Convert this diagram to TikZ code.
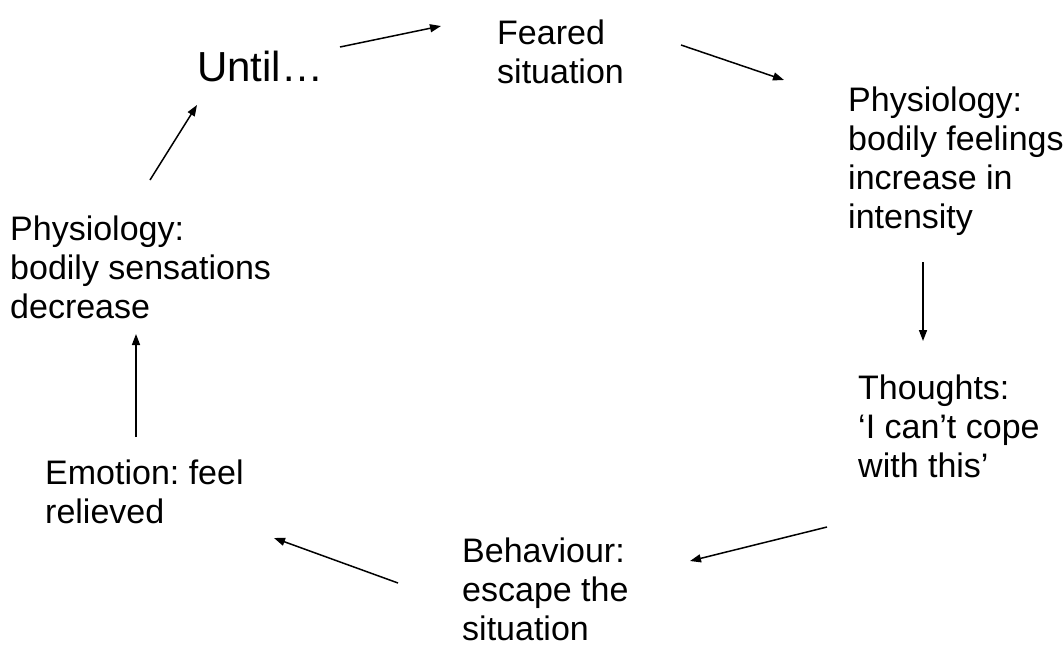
\documentclass[tikz,border=0pt]{standalone}
\usepackage{fontspec}
\setmainfont{Liberation Sans}
\usetikzlibrary{arrows.meta}
\frenchspacing

\begin{document}
\begin{tikzpicture}[x=1pt, y=-1pt,
  stage/.style={anchor=north west, inner sep=0pt, align=left, font=\fontsize{34}{39}\selectfont},
  cyclearrow/.style={-{Triangle[length=11pt, width=8pt]}, line width=1.5pt}]
  \useasboundingbox (0,0) rectangle (1064,646);
  \node [stage] (feared) at (497,20) {Feared\\situation};
  \node [stage, font=\fontsize{42}{48}\selectfont] (until) at (197,51) {Until…};
  \node [stage] (physup) at (848,87) {Physiology:\\bodily feelings\\increase in\\intensity};
  \node [stage] (thoughts) at (858,375) {Thoughts:\\‘I can’t cope\\with this’};
  \node [stage] (behaviour) at (462,538) {Behaviour:\\escape the\\situation};
  \node [stage] (emotion) at (45,460) {Emotion: feel\\relieved};
  \node [stage] (physdown) at (10,216) {Physiology:\\bodily sensations\\decrease};
  \coordinate (u1) at (340,47);  \coordinate (u2) at (441,26);
  \coordinate (f1) at (681,45);  \coordinate (f2) at (784,80);
  \coordinate (p1) at (923,262); \coordinate (p2) at (923,341);
  \coordinate (t1) at (827,527); \coordinate (t2) at (690,561);
  \coordinate (b1) at (398,583); \coordinate (b2) at (274,538);
  \coordinate (e1) at (136,437); \coordinate (e2) at (136,334);
  \coordinate (s1) at (150,180); \coordinate (s2) at (197,105);
  \draw [cyclearrow] (u1) -- (u2);
  \draw [cyclearrow] (f1) -- (f2);
  \draw [cyclearrow] (p1) -- (p2);
  \draw [cyclearrow] (t1) -- (t2);
  \draw [cyclearrow] (b1) -- (b2);
  \draw [cyclearrow] (e1) -- (e2);
  \draw [cyclearrow] (s1) -- (s2);
\end{tikzpicture}
\end{document}
